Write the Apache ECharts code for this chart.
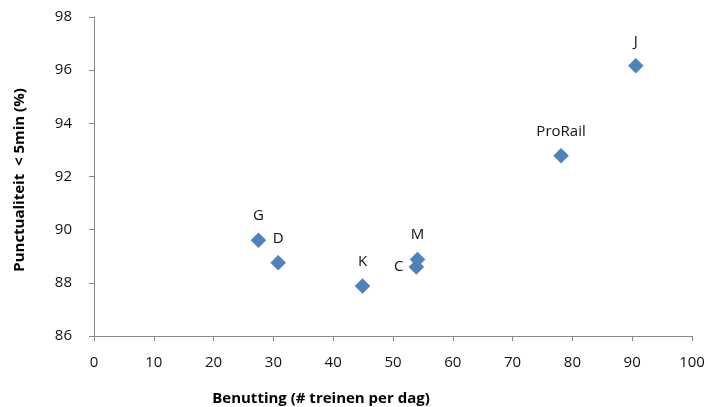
<!DOCTYPE html>
<html><head><meta charset="utf-8">
<script src="https://cdn.jsdelivr.net/npm/echarts@6/dist/echarts.min.js"></script>
<style>html,body{margin:0;padding:0;background:#fff}#c{width:708px;height:407px}</style>
</head><body><div id="c"></div>
<script>
const names = ['G','D','K','C','M','ProRail','J'];
const xValues = [27.5, 30.8, 44.9, 53.9, 54.1, 78.1, 90.6];
const yValues = [89.6, 88.76, 87.88, 88.6, 88.88, 92.78, 96.17];
const labelPos = ['top','top','top','left','top','top','top'];
const xTitle = 'Benutting (# treinen per dag)';
const yTitle = 'Punctualiteit  < 5min (%)';

const FONT = 'Open Sans';
const axisCol = '#888888';
const chart = echarts.init(document.getElementById('c'), null, {renderer:'canvas'});
const data = names.map((n,i)=>({
  name:n, value:[xValues[i], yValues[i]],
  label:{position:labelPos[i], distance: labelPos[i]==='left'?5:9}
}));
chart.setOption({
  animation:false,
  grid:{left:94, right:16, top:17, bottom:71},
  xAxis:{type:'value', min:0, max:100, interval:10,
    axisLine:{lineStyle:{color:axisCol, width:1}},
    axisTick:{show:true, inside:false, length:5, lineStyle:{color:axisCol}},
    splitLine:{show:false},
    axisLabel:{color:'#111', fontFamily:FONT, fontSize:15, margin:19}
  },
  yAxis:{type:'value', min:86, max:98, interval:2,
    axisLine:{show:true, lineStyle:{color:axisCol, width:1}},
    axisTick:{show:true, inside:false, length:5, lineStyle:{color:axisCol}},
    splitLine:{show:false},
    axisLabel:{color:'#111', fontFamily:FONT, fontSize:15, margin:22}
  },
  graphic:[
    {type:'text', x:321, y:399, style:{text:xTitle, x:0, y:0, textAlign:'center', textVerticalAlign:'middle', font:'bold 15px "Open Sans"', fill:'#000'}},
    {type:'text', x:20, y:180, rotation:Math.PI/2, style:{text:yTitle, x:0, y:0, textAlign:'center', textVerticalAlign:'middle', font:'bold 15px "Open Sans"', fill:'#000'}}
  ],
  series:[{
    type:'scatter', symbol:'diamond', symbolSize:15,
    itemStyle:{color:'#4F81BD', opacity:1, borderColor:'#4A7EBB', borderWidth:0.5},
    label:{show:true, formatter:'{b}', color:'#111', fontFamily:FONT, fontSize:15},
    data:data
  }]
});
</script></body></html>
